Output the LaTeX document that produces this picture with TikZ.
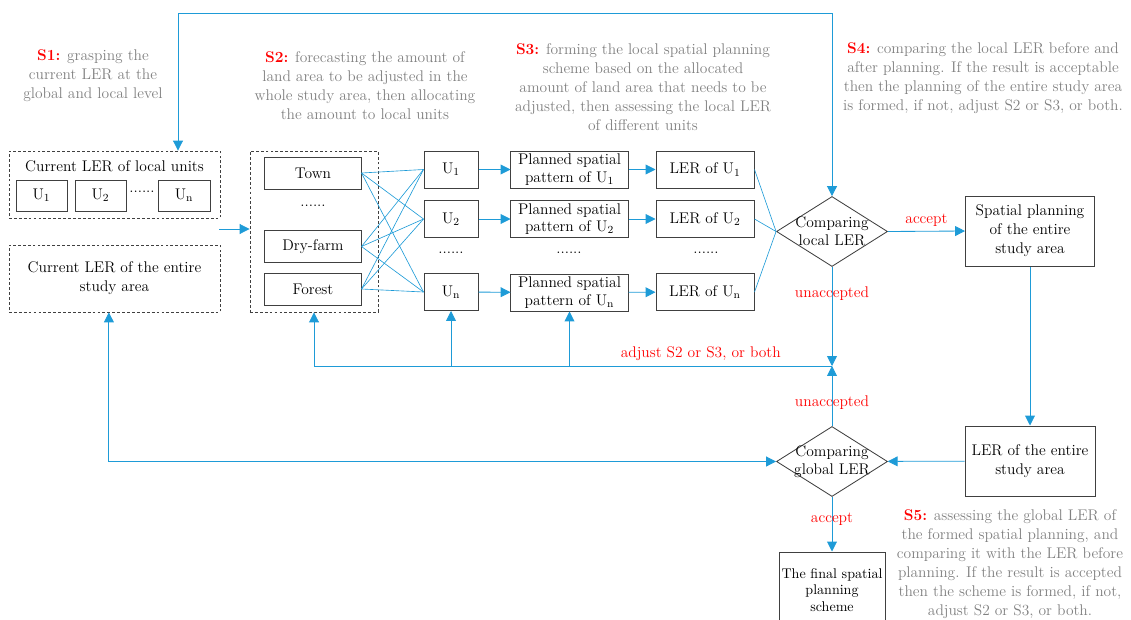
\documentclass[tikz,border=0pt]{standalone}
\usepackage{tikz}
\usetikzlibrary{arrows.meta,shapes.geometric}
\usetikzlibrary{positioning}
\definecolor{flowblue}{RGB}{30,155,215}
\definecolor{boxgray}{RGB}{64,64,64}
\definecolor{stepgray}{RGB}{128,128,128}
\newcommand{\stepname}[1]{\textcolor{red}{\textbf{#1}}}

\begin{document}
\begin{tikzpicture}[x=0.025cm,y=-0.025cm,>={Triangle[length=7pt,width=7pt]},
                    font=\fontsize{11}{13.5}\selectfont,
                    box/.style={draw=boxgray,line width=0.7pt,inner sep=0pt,align=center},
                    dash box/.style={draw=boxgray,line width=0.6pt,dash pattern=on 2pt off 1.5pt},
                    decision/.style={diamond,draw=boxgray,line width=0.6pt,inner sep=0pt,
                                     minimum width=2.775cm,minimum height=1.75cm},
                    step text/.style={text=stepgray,align=center},
                    flow/.style={->,color=flowblue,line width=0.6pt},
                    link/.style={color=flowblue,line width=0.45pt},
                    red label/.style={text=red}]

\useasboundingbox (0,0) rectangle (1131,619);

\node[step text] (s1) at (93,76) {\stepname{S1:} grasping the\\current LER at the\\global and local level};
\node[step text] (s2) at (365,86) {\stepname{S2:} forecasting the amount of\\land area to be adjusted in the\\whole study area, then allocating\\the amount to local units};
\node[step text] (s3) at (643,87) {\stepname{S3:} forming the local spatial planning\\scheme based on the allocated\\amount of land area that needs to be\\adjusted, then assessing the local LER\\of different units};
\node[step text] (s4) at (983,78) {\stepname{S4:} comparing the local LER before and\\after planning. If the result is acceptable\\then the planning of the entire study area\\is formed, if not, adjust S2 or S3, or both.};
\node[step text] (s5) at (1010,564) {\stepname{S5:} assessing the global LER of\\the formed spatial planning, and\\comparing it with the LER before\\planning. If the result is accepted\\then the scheme is formed, if not,\\adjust S2 or S3, or both.};

\node[dash box] (curloc) at (114.5,184.5) [minimum width=5.275cm,minimum height=1.675cm] {};
\node (curloctitle) at (114.5,166) {Current LER of local units};
\node[box] (cu1) at (41.5,195.5) [minimum width=1.275cm,minimum height=0.775cm] {U\textsubscript{1}};
\node[box] (cu2) at (100.5,195.5) [minimum width=1.275cm,minimum height=0.775cm] {U\textsubscript{2}};
\node[box] (cun) at (184,195.5) [minimum width=1.3cm,minimum height=0.775cm] {U\textsubscript{n}};
\node (cudots) at (142,192) {......};
\node[dash box,align=center] (curall) at (114.5,278.5) [minimum width=5.275cm,minimum height=1.675cm] {Current LER of the entire\\study area};

\node[dash box] (land) at (314,231.5) [minimum width=3.2cm,minimum height=4.025cm] {};
\node[box] (town) at (313,173) [minimum width=2.4cm,minimum height=0.8cm] {Town};
\node (landdots) at (313,206) {......};
\node[box] (dry) at (313,246.5) [minimum width=2.4cm,minimum height=0.8cm] {Dry-farm};
\node[box] (forest) at (313,289) [minimum width=2.4cm,minimum height=0.8cm] {Forest};

\node[box] (u1) at (451,169.5) [minimum width=1.35cm,minimum height=0.925cm] {U\textsubscript{1}};
\node[box] (u2) at (451,219) [minimum width=1.35cm,minimum height=0.925cm] {U\textsubscript{2}};
\node (udots) at (451,253) {......};
\node[box] (un) at (451,292) [minimum width=1.35cm,minimum height=0.925cm] {U\textsubscript{n}};

\node[box] (p1) at (569.5,169.5) [minimum width=2.925cm,minimum height=0.925cm,font=\fontsize{11}{12.5}\selectfont] {Planned spatial\\pattern of U\textsubscript{1}};
\node[box] (p2) at (569.5,219) [minimum width=2.925cm,minimum height=0.925cm,font=\fontsize{11}{12.5}\selectfont] {Planned spatial\\pattern of U\textsubscript{2}};
\node (pdots) at (569,253) {......};
\node[box] (pn) at (569.5,292.5) [minimum width=2.925cm,minimum height=0.925cm,font=\fontsize{11}{12.5}\selectfont] {Planned spatial\\pattern of U\textsubscript{n}};

\node[box] (l1) at (705,169.5) [minimum width=2.45cm,minimum height=0.925cm] {LER of U\textsubscript{1}};
\node[box] (l2) at (705,219) [minimum width=2.45cm,minimum height=0.925cm] {LER of U\textsubscript{2}};
\node (ldots) at (706,253) {......};
\node[box] (ln) at (705,292) [minimum width=2.45cm,minimum height=0.925cm] {LER of U\textsubscript{n}};

\node[decision] (cmp1) at (832,231.5) [label={[font=\fontsize{11}{12.5}\selectfont,align=center]center:Comparing\\local LER}] {};
\node[box] (plan) at (1030,231) [minimum width=3.225cm,minimum height=1.75cm] {Spatial planning\\of the entire\\study area};
\node[box] (lerall) at (1030,461) [minimum width=3.25cm,minimum height=1.75cm] {LER of the entire\\study area};
\node[decision] (cmp2) at (832,461.5) [label={[font=\fontsize{11}{12.5}\selectfont,align=center]center:Comparing\\global LER}] {};
\node[box] (final) at (832,590) [minimum width=2.65cm,minimum height=1.9cm,font=\fontsize{10}{12}\selectfont] {The final spatial\\planning\\scheme};

\coordinate (curout) at (219,229);
\coordinate (toptl) at (178,13);
\coordinate (toptr) at (toptl -| cmp1);
\coordinate (fb) at (832,366);

\foreach \src in {town,dry,forest}
  \foreach \dst in {u1,u2,un}
    \draw[link] (\src.east) -- (\dst.west);
\foreach \src in {l1,l2,ln}
  \draw[link] (\src.east) -- (cmp1.west);

\path[flow]
  (u1) edge (p1)
  (u2) edge (p2)
  (un) edge (pn)
  (p1) edge (l1)
  (p2) edge (l2)
  (pn) edge (ln)
  (plan) edge (lerall)
  (lerall) edge (cmp2);

\draw[flow] (curout) -- (curout -| land.west);
\draw[flow] (un |- fb) -- (un.south);
\draw[flow] (pn |- fb) -- (pn.south);
\draw[flow,<->] (toptl |- curloc.north) -- (toptl) -- (toptr) -- (cmp1.north);
\draw[flow] (cmp1.east) -- node[red label,above] {accept} (plan.west);
\draw[flow] (cmp1.south) -- node[red label,pos=0.27] {unaccepted} (fb);
\draw[flow] (cmp2.north) -- node[red label,pos=0.39] {unaccepted} (fb);
\draw[flow] (fb) -| (land.south);
\path (fb) -- node[red label,above] {adjust S2 or S3, or both} (pn |- fb);
\draw[flow] (cmp2.south) -- node[red label,pos=0.4] {accept} (final.north);
\draw[flow,<->] ([xshift=-0.14cm]curall.south) |- (cmp2.west);
\end{tikzpicture}
\end{document}
